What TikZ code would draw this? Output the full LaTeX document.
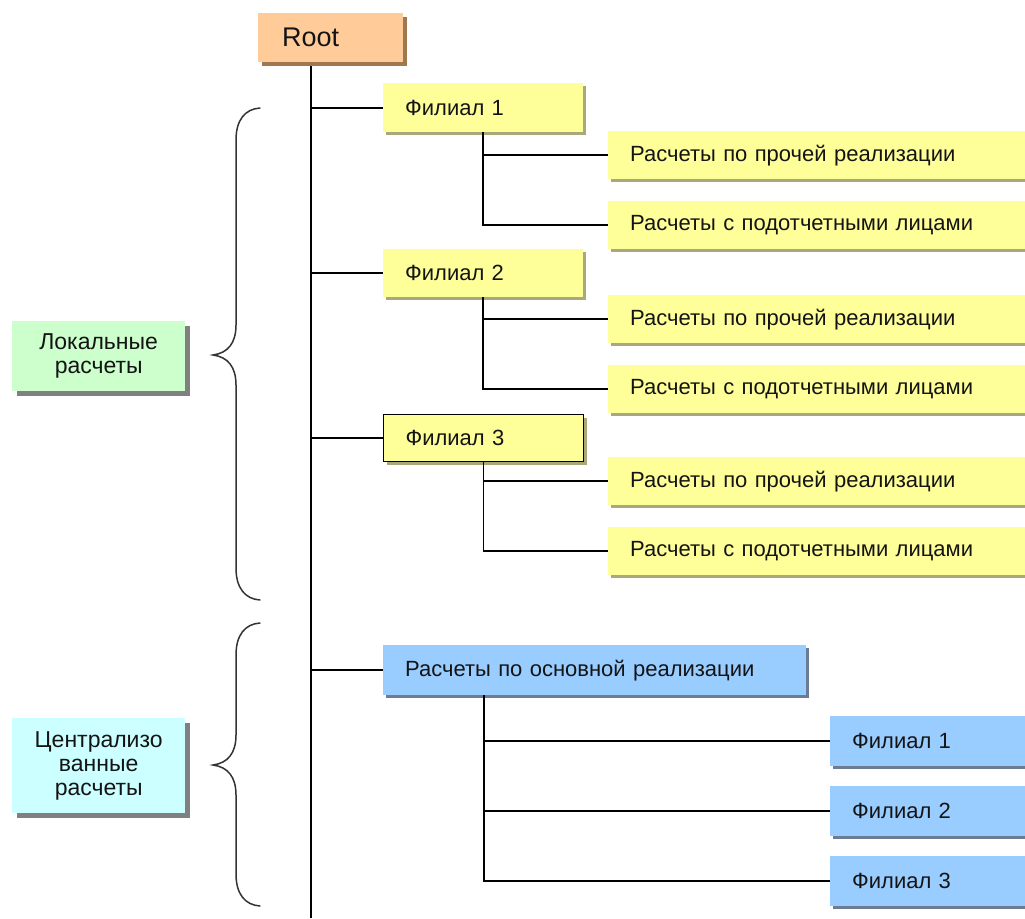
\documentclass[tikz,border=0pt]{standalone}
\usepackage{fontspec}
\setmainfont{Liberation Sans}
\usetikzlibrary{shadows}
\definecolor{yfill}{HTML}{FFFF99}
\definecolor{yshad}{HTML}{A8A87A}
\definecolor{rfill}{HTML}{FFCC99}
\definecolor{rshad}{HTML}{A07850}
\definecolor{bfill}{HTML}{99CCFF}
\definecolor{bshad}{HTML}{6C7C95}
\definecolor{gfill}{HTML}{CCFFCC}
\definecolor{cfill}{HTML}{CCFFFF}
\definecolor{gshad}{HTML}{808080}
\definecolor{txt}{HTML}{141414}
\tikzset{
  base/.style={rectangle, anchor=north west, inner xsep=22pt, inner ysep=0pt, align=left, text=txt,
    font=\fontsize{22}{24}\selectfont},
  ybox/.style={base, fill=yfill, general shadow={fill=yshad, shadow xshift=3pt, shadow yshift=-3pt}},
  bbox/.style={base, fill=bfill, general shadow={fill=bshad, shadow xshift=3pt, shadow yshift=-3pt}},
  sidebox/.style={rectangle, anchor=north west, inner sep=0pt, align=center, text=txt,
    font=\fontsize{23}{24}\selectfont, general shadow={fill=gshad, shadow xshift=5pt, shadow yshift=-5pt}},
  conn/.style={line width=1.6pt, black},
  brace/.style={line width=1.5pt, draw=black!80, line cap=round},
}
\begin{document}
\begin{tikzpicture}[x=1pt,y=-1pt]
\useasboundingbox (0,0) rectangle (1025,918);
\clip (0,0) rectangle (1025,918);
% trunk
\coordinate (ttop) at (311,62);
\coordinate (tbot) at (311,918);
\draw[conn] (ttop) -- (tbot);
% root
\node[base, fill=rfill, general shadow={fill=rshad, shadow xshift=4pt, shadow yshift=-4pt},
  minimum width=125pt, minimum height=49pt, text width=97pt, inner xsep=24pt,
  font=\fontsize{27}{30}\selectfont] (root) at (258,13) {Root};
% Filial 1
\node[ybox, minimum width=200pt, minimum height=49pt, text width=156pt] (f1) at (383,83) {Филиал 1};
\node[ybox, minimum width=440pt, minimum height=48pt, text width=396pt] (f1a) at (608,131) {Расчеты по прочей реализации};
\node[ybox, minimum width=440pt, minimum height=48pt, text width=396pt] (f1b) at (608,201) {Расчеты с подотчетными лицами};
% Filial 2
\node[ybox, minimum width=200pt, minimum height=48pt, text width=156pt] (f2) at (383,249) {Филиал 2};
\node[ybox, minimum width=440pt, minimum height=48pt, text width=396pt] (f2a) at (608,295) {Расчеты по прочей реализации};
\node[ybox, minimum width=440pt, minimum height=48pt, text width=396pt] (f2b) at (608,365) {Расчеты с подотчетными лицами};
% Filial 3
\node[ybox, draw=black, line width=1.2pt, minimum width=200pt, minimum height=47pt, text width=156pt] (f3) at (383,414) {Филиал 3};
\node[ybox, minimum width=440pt, minimum height=48pt, text width=396pt] (f3a) at (608,457) {Расчеты по прочей реализации};
\node[ybox, minimum width=440pt, minimum height=48pt, text width=396pt] (f3b) at (608,527) {Расчеты с подотчетными лицами};
% central
\node[bbox, minimum width=423pt, minimum height=50pt, text width=379pt] (m) at (383,645) {Расчеты по основной реализации};
\node[bbox, minimum width=230pt, minimum height=50pt, text width=186pt] (b1) at (830,716) {Филиал 1};
\node[bbox, minimum width=230pt, minimum height=50pt, text width=186pt] (b2) at (830,786) {Филиал 2};
\node[bbox, minimum width=230pt, minimum height=50pt, text width=186pt] (b3) at (830,856) {Филиал 3};
% side labels
\node[sidebox, fill=gfill, minimum width=173pt, minimum height=70pt, text width=173pt] (loc) at (12,321) {Локальные\\расчеты};
\node[sidebox, fill=cfill, minimum width=173pt, minimum height=95pt, text width=173pt] (cen) at (12,718) {Централизо\\ванные\\расчеты};
% branches from trunk
\foreach \n in {f1,f2,f3,m} \draw[conn] (\n.west -| ttop) -- (\n.west);
% sub connectors
\draw[conn] (f1.south) |- (f1a.west);
\draw[conn] (f1.south) |- (f1b.west);
\draw[conn] (f2.south) |- (f2a.west);
\draw[conn] (f2.south) |- (f2b.west);
\draw[conn] (f3.south) |- (f3a.west);
\draw[conn] (f3.south) |- (f3b.west);
\coordinate (mv) at ([xshift=101pt]m.south west);
\draw[conn] (mv) |- (b1.west);
\draw[conn] (mv) |- (b2.west);
\draw[conn] (mv) |- (b3.west);
% braces
\draw[brace] (260,108) .. controls (245,109) and (236,120) .. (236,140) -- (236,325)
  .. controls (236,343) and (228,353) .. (213,355) .. controls (228,357) and (236,367) .. (236,385)
  -- (236,568) .. controls (236,588) and (245,599) .. (260,600);
\draw[brace] (260,623) .. controls (245,624) and (236,635) .. (236,655) -- (236,735)
  .. controls (236,753) and (228,763) .. (213,765) .. controls (228,767) and (236,777) .. (236,795)
  -- (236,874) .. controls (236,894) and (245,905) .. (260,906);
\end{tikzpicture}
\end{document}
